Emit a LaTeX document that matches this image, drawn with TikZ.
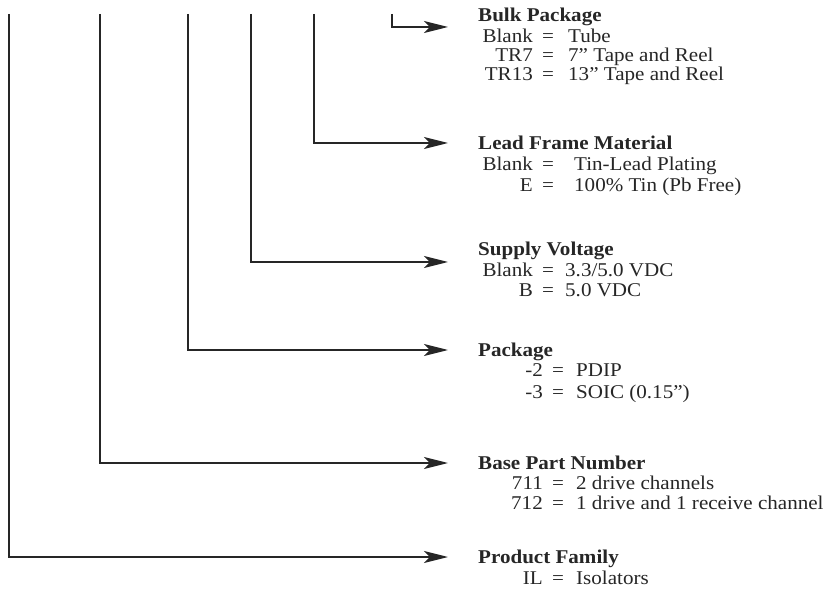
\documentclass[tikz,border=0pt]{standalone}
\usepackage{fontspec}
\setmainfont{Liberation Serif}[FakeStretch=1.08]
\usetikzlibrary{arrows.meta}
\begin{document}
\begin{tikzpicture}[x=1pt,y=-1pt,
  conn/.style={line width=1.8pt, color=black!85, -{Stealth[length=24pt,width=12pt,inset=6pt]}},
  lbl/.style={inner sep=0pt, font=\fontsize{19.5}{22}\selectfont, text=black!85},
  head/.style={lbl, font=\fontsize{19.5}{22}\selectfont\bfseries, anchor=base west}]
\useasboundingbox (0,0) rectangle (835,593);
\newcommand{\optrow}[6]{%
  \node[lbl, anchor=base east] (#1k) at (#2-15,#3) {#4};
  \node[lbl, anchor=base] (#1e) at (#2,#3) {=};
  \node[lbl, anchor=base west] (#1v) at (#2+#5,#3) {#6};}
% connector ends
\coordinate (t1) at (9,14);
\coordinate (t2) at (100,14);
\coordinate (t3) at (188,14);
\coordinate (t4) at (251,14);
\coordinate (t5) at (314,14);
\coordinate (t6) at (392,14);
\coordinate (h1) at (448,557);
\coordinate (h2) at (448,463);
\coordinate (h3) at (448,350);
\coordinate (h4) at (448,262);
\coordinate (h5) at (448,143);
\coordinate (h6) at (448,27);
\draw[conn] (t1) |- (h1);
\draw[conn] (t2) |- (h2);
\draw[conn] (t3) |- (h3);
\draw[conn] (t4) |- (h4);
\draw[conn] (t5) |- (h5);
\draw[conn] (t6) |- (h6);
% Bulk Package
\node[head] (bulk) at (478,22) {Bulk Package};
\optrow{ba}{548}{43}{Blank}{20}{Tube}
\optrow{bb}{548}{62}{TR7}{20}{7'' Tape and Reel}
\optrow{bc}{548}{81}{TR13}{20}{13'' Tape and Reel}
% Lead Frame
\node[head] (lead) at (478,150) {Lead Frame Material};
\optrow{la}{548}{171}{Blank}{26}{Tin-Lead Plating}
\optrow{lb}{548}{192}{E}{26}{100\% Tin (Pb Free)}
% Supply Voltage
\node[head] (sup) at (478,256) {Supply Voltage};
\optrow{sa}{548}{277}{Blank}{17}{3.3/5.0 VDC}
\optrow{sb}{548}{297}{B}{17}{5.0 VDC}
% Package
\node[head] (pkg) at (478,356) {Package};
\optrow{pa}{558}{377}{-2}{18}{PDIP}
\optrow{pb}{558}{398}{-3}{18}{SOIC (0.15'')}
% Base Part Number
\node[head] (base) at (478,469) {Base Part Number};
\optrow{na}{558}{489}{711}{18}{2 drive channels}
\optrow{nb}{558}{509}{712}{18}{1 drive and 1 receive channel}
% Product Family
\node[head] (fam) at (478,563) {Product Family};
\optrow{fa}{558}{584}{IL}{18}{Isolators}
\end{tikzpicture}
\end{document}
